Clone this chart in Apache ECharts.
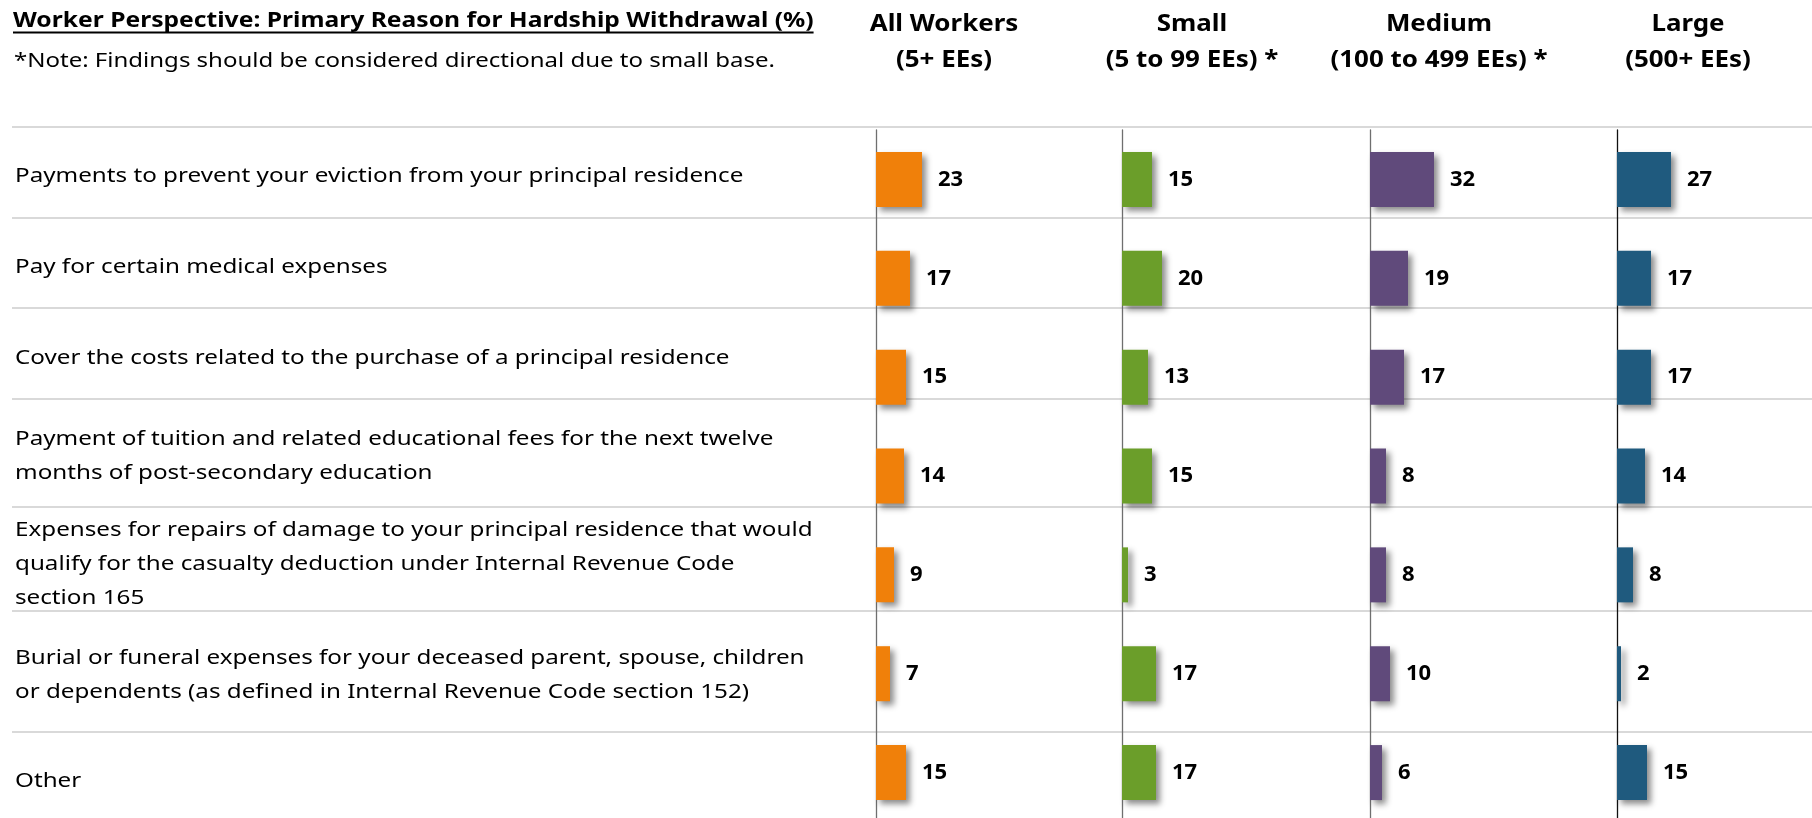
<!DOCTYPE html>
<html><head><meta charset="utf-8">
<script src="https://cdn.jsdelivr.net/npm/echarts@6/dist/echarts.min.js"></script>
<style>html,body{margin:0;padding:0;background:#fff}#c{width:1812px;height:818px}</style>
</head><body><div id="c"></div>
<script>
// ---------- data ----------
const title = 'Worker Perspective: Primary Reason for Hardship Withdrawal (%)';
const note = '*Note: Findings should be considered directional due to small base.';
const categories = [
  'Payments to prevent your eviction from your principal residence',
  'Pay for certain medical expenses',
  'Cover the costs related to the purchase of a principal residence',
  'Payment of tuition and related educational fees for the next twelve\nmonths of post-secondary education',
  'Expenses for repairs of damage to your principal residence that would\nqualify for the casualty deduction under Internal Revenue Code\nsection 165',
  'Burial or funeral expenses for your deceased parent, spouse, children\nor dependents (as defined in Internal Revenue Code section 152)',
  'Other'
];
const groupTitles = ['All Workers', 'Small', 'Medium', 'Large'];
const groupSubtitles = ['(5+ EEs)', '(5 to 99 EEs) *', '(100 to 499 EEs) *', '(500+ EEs)'];
const allWorkers = [23, 17, 15, 14, 9, 7, 15];
const small = [15, 20, 13, 15, 3, 17, 17];
const medium = [32, 19, 17, 8, 8, 10, 6];
const large = [27, 17, 17, 14, 8, 2, 15];
const groupValues = [allWorkers, small, medium, large];

// ---------- layout / style ----------
const FONT = '"Noto Sans", "Open Sans", sans-serif';
const colors = ['#F0800A', '#6B9E2A', '#604A7B', '#1F5A7E'];
const axisColors = ['#6f6f6f', '#6f6f6f', '#6f6f6f', '#111111'];
const panelLeft = [876, 1122, 1370, 1617];
const headerCenter = [944, 1192, 1439, 1688];
const gridTop = 130, gridHeight = 692, gridWidth = 180, axisMax = 90;
const separatorY = [127, 218, 308, 399, 507, 611, 732];
const rowBaseline = [183, 274, 365, 446, 537, 665, 788];
const rowLineGap = 34;
const MID = 0.33; // middle offset factor relative to font size

function txt(str, x, baseline, fs, weight, align, sx) {
  return {
    type: 'text', x: x, y: baseline - MID * fs, scaleX: sx, scaleY: 1, z: 10,
    style: { text: str, x: 0, y: 0, fill: '#000', align: align, verticalAlign: 'middle',
      font: weight + ' ' + fs + 'px ' + FONT }
  };
}
function measure(str, fs, weight) {
  const c = document.createElement('canvas').getContext('2d');
  c.font = weight + ' ' + fs + 'px ' + FONT;
  return c.measureText(str).width;
}

const graphics = [];
// title + underline
const titleFs = 22, titleSx = 1.12;
graphics.push(txt(title, 13, 28, titleFs, 'bold', 'left', titleSx));
graphics.push({ type: 'line', z: 10, shape: { x1: 13, y1: 32.5, x2: 13 + measure(title, titleFs, 'bold') * titleSx, y2: 32.5 },
  style: { stroke: '#000', lineWidth: 2 } });
graphics.push(txt(note, 14, 68, 20, 'normal', 'left', 1.2));
// headers
for (let i = 0; i < 4; i++) {
  graphics.push(txt(groupTitles[i], headerCenter[i], 32, 24, 'bold', 'center', 1.08));
  graphics.push(txt(groupSubtitles[i], headerCenter[i], 68, 24, 'bold', 'center', 1.08));
}
// separators
separatorY.forEach(y => graphics.push({ type: 'line', z: 0,
  shape: { x1: 12, y1: y, x2: 1812, y2: y }, style: { stroke: '#d9d9d9', lineWidth: 2 } }));
// category labels
categories.forEach((c, i) => {
  c.split('\n').forEach((line, j) => {
    graphics.push(txt(line, 15, rowBaseline[i] + j * rowLineGap, 20, 'normal', 'left', 1.21));
  });
});

const grids = [], xAxes = [], yAxes = [], series = [];
for (let i = 0; i < 4; i++) {
  grids.push({ left: panelLeft[i], top: gridTop, width: gridWidth, height: gridHeight, containLabel: false, outerBoundsMode: 'none' });
  xAxes.push({ gridIndex: i, type: 'value', min: 0, max: axisMax, show: false });
  yAxes.push({ gridIndex: i, type: 'category', data: categories, inverse: true,
    axisLine: { show: true, lineStyle: { color: axisColors[i], width: 1.3 } },
    axisTick: { show: false }, axisLabel: { show: false }, splitLine: { show: false } });
  series.push({
    type: 'bar', xAxisIndex: i, yAxisIndex: i, data: groupValues[i], barWidth: 55,
    itemStyle: { color: colors[i], shadowColor: 'rgba(0,0,0,0.45)', shadowBlur: 6, shadowOffsetX: 4, shadowOffsetY: 4 },
    label: { show: true, position: 'right', distance: 16, color: '#000', fontSize: 22, fontWeight: 'bold', fontFamily: FONT },
    emphasis: { disabled: true }, animation: false
  });
}

const chart = echarts.init(document.getElementById('c'), null, { renderer: 'canvas' });
chart.setOption({
  backgroundColor: '#fff', animation: false,
  grid: grids, xAxis: xAxes, yAxis: yAxes, series: series,
  graphic: { elements: graphics }
});
</script></body></html>
